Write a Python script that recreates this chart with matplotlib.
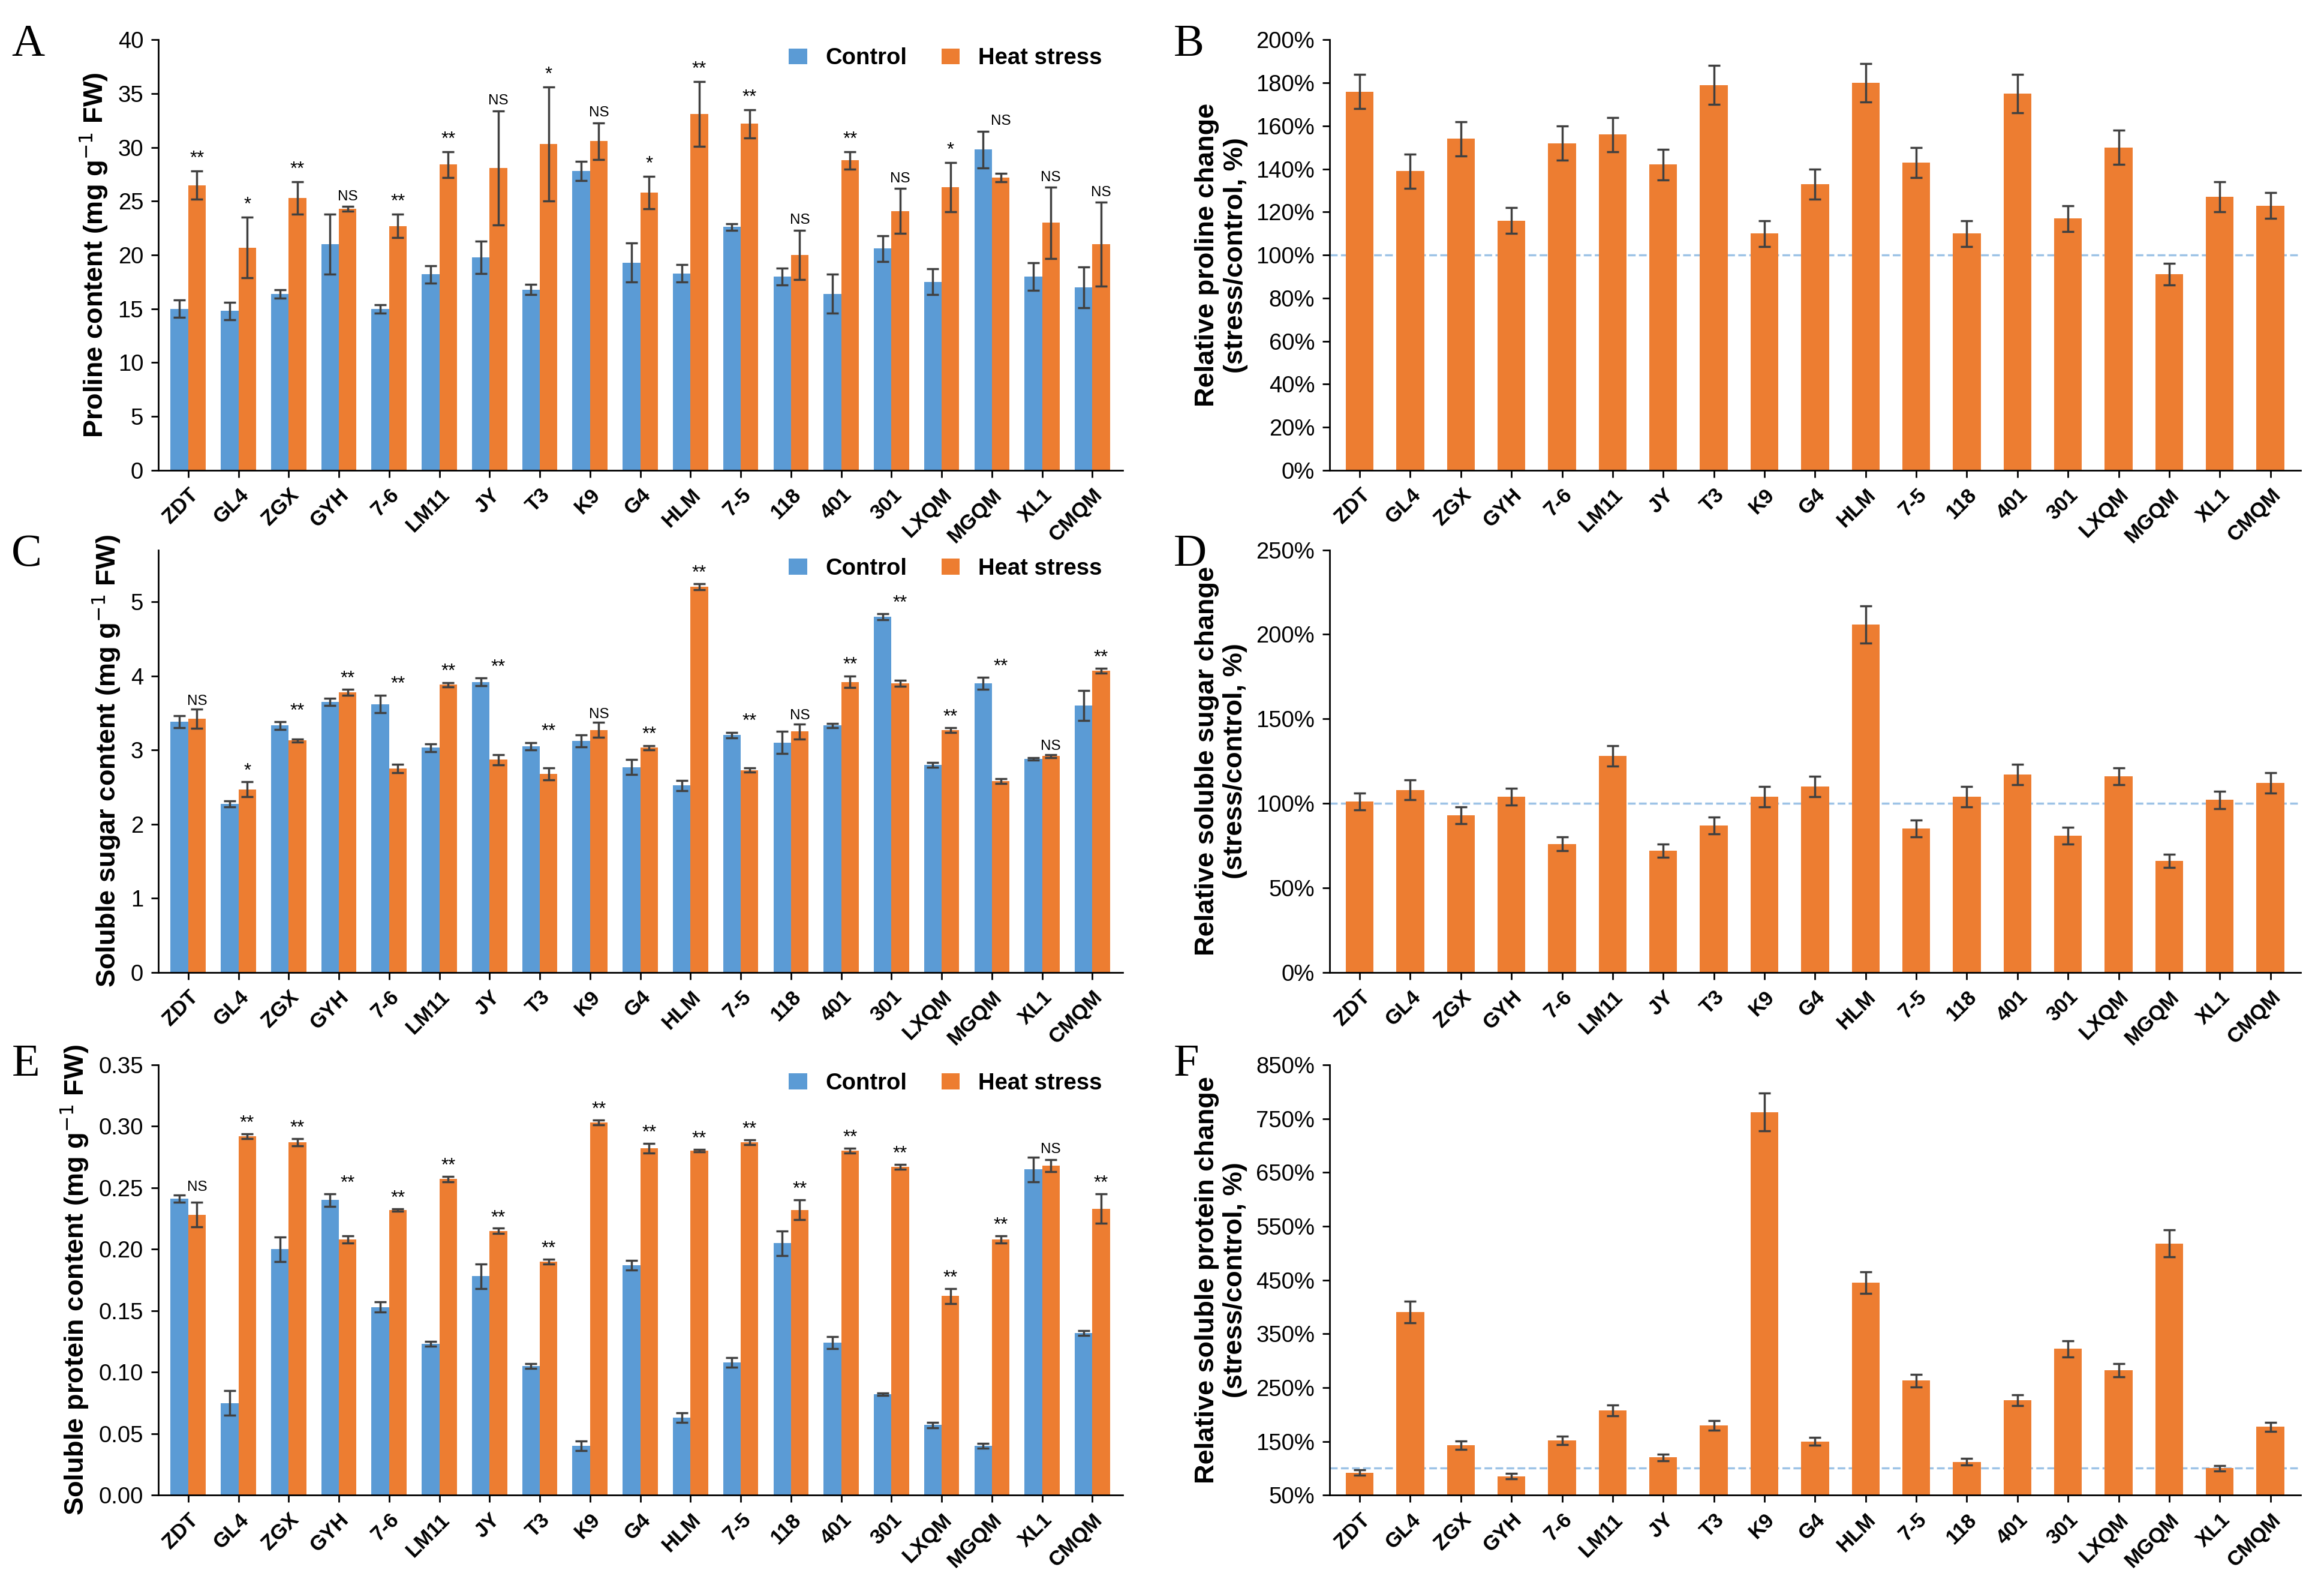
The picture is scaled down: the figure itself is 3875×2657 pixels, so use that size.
import matplotlib
matplotlib.use("Agg")
import matplotlib.pyplot as plt
import numpy as np

plt.rcParams['font.family'] = ['Liberation Sans', 'DejaVu Sans']

cultivars = ["ZDT", "GL4", "ZGX", "GYH", "7-6", "LM11", "JY", "T3", "K9", "G4", "HLM",
             "7-5", "118", "401", "301", "LXQM", "MGQM", "XL1", "CMQM"]

# A - proline
pro_ctrl = [15, 14.8, 16.4, 21, 15, 18.2, 19.8, 16.8, 27.8, 19.3, 18.3, 22.6, 18, 16.4, 20.6, 17.5, 29.8, 18, 17]
pro_ctrl_err = [0.8, 0.8, 0.4, 2.8, 0.4, 0.8, 1.5, 0.5, 0.9, 1.8, 0.8, 0.3, 0.8, 1.8, 1.2, 1.2, 1.7, 1.3, 1.9]
pro_heat = [26.5, 20.7, 25.3, 24.3, 22.7, 28.4, 28.1, 30.3, 30.6, 25.8, 33.1, 32.2, 20, 28.8, 24.1, 26.3, 27.2, 23, 21]
pro_heat_err = [1.3, 2.8, 1.5, 0.2, 1.1, 1.2, 5.3, 5.3, 1.7, 1.5, 3.0, 1.3, 2.3, 0.8, 2.1, 2.3, 0.4, 3.3, 3.9]
pro_sig = ["**", "*", "**", "NS", "**", "**", "NS", "*", "NS", "*", "**", "**", "NS", "**", "NS", "*", "NS", "NS", "NS"]
# B
pro_rel = [176, 139, 154, 116, 152, 156, 142, 179, 110, 133, 180, 143, 110, 175, 117, 150, 91, 127, 123]
pro_rel_err = [8, 8, 8, 6, 8, 8, 7, 9, 6, 7, 9, 7, 6, 9, 6, 8, 5, 7, 6]

# C - soluble sugar
sug_ctrl = [3.38, 2.27, 3.33, 3.65, 3.62, 3.03, 3.92, 3.05, 3.12, 2.77, 2.52, 3.2, 3.1, 3.33, 4.8, 2.8, 3.9, 2.88, 3.6]
sug_ctrl_err = [0.08, 0.04, 0.05, 0.05, 0.12, 0.05, 0.05, 0.05, 0.08, 0.1, 0.07, 0.04, 0.15, 0.03, 0.04, 0.03, 0.08, 0.02, 0.2]
sug_heat = [3.42, 2.47, 3.13, 3.78, 2.75, 3.88, 2.87, 2.68, 3.27, 3.03, 5.2, 2.73, 3.25, 3.92, 3.9, 3.27, 2.58, 2.92, 4.07]
sug_heat_err = [0.13, 0.1, 0.02, 0.04, 0.06, 0.03, 0.07, 0.08, 0.1, 0.03, 0.04, 0.03, 0.1, 0.08, 0.04, 0.03, 0.03, 0.02, 0.03]
sug_sig = ["NS", "*", "**", "**", "**", "**", "**", "**", "NS", "**", "**", "**", "NS", "**", "**", "**", "**", "NS", "**"]
# D
sug_rel = [101, 108, 93, 104, 76, 128, 72, 87, 104, 110, 206, 85, 104, 117, 81, 116, 66, 102, 112]
sug_rel_err = [5, 6, 5, 5, 4, 6, 4, 5, 6, 6, 11, 5, 6, 6, 5, 5, 4, 5, 6]

# E - soluble protein
prt_ctrl = [0.241, 0.075, 0.2, 0.24, 0.153, 0.123, 0.178, 0.105, 0.04, 0.187, 0.063, 0.108, 0.205, 0.124, 0.082, 0.057, 0.04, 0.265, 0.132]
prt_ctrl_err = [0.003, 0.01, 0.01, 0.005, 0.004, 0.002, 0.01, 0.002, 0.004, 0.004, 0.004, 0.004, 0.01, 0.005, 0.001, 0.002, 0.002, 0.01, 0.002]
prt_heat = [0.228, 0.292, 0.287, 0.208, 0.232, 0.257, 0.215, 0.19, 0.303, 0.282, 0.28, 0.287, 0.232, 0.28, 0.267, 0.162, 0.208, 0.268, 0.233]
prt_heat_err = [0.01, 0.002, 0.003, 0.003, 0.001, 0.002, 0.002, 0.002, 0.002, 0.004, 0.001, 0.002, 0.008, 0.002, 0.002, 0.006, 0.003, 0.005, 0.012]
prt_sig = ["NS"] + ["**"] * 16 + ["NS", "**"]
# F
prt_rel = [92, 390, 143, 85, 152, 208, 120, 180, 762, 150, 445, 263, 112, 226, 322, 282, 518, 100, 177]
prt_rel_err = [5, 20, 8, 5, 8, 10, 6, 9, 35, 7, 20, 12, 6, 10, 15, 12, 25, 5, 8]

BLUE = "#5B9BD5"
ORANGE = "#ED7D31"
x = np.arange(len(cultivars))


def style_axis(ax):
    ax.set_xticks(x)
    ax.set_xticklabels(cultivars, rotation=45, ha='right', rotation_mode='anchor',
                       fontsize=10, fontweight='bold')
    ax.set_xlim(-0.6, len(cultivars) - 0.4)
    ax.tick_params(axis='y', labelsize=11)
    for s in ['top', 'right']:
        ax.spines[s].set_visible(False)


def paired(ax, ctrl, ce, heat, he, sig, ylim, yticks, fmt, ylabel, off):
    w = 0.35
    ek = dict(ecolor='#404040', capsize=3, elinewidth=1)
    ax.bar(x - w / 2, ctrl, w, yerr=ce, color=BLUE, label='Control', error_kw=ek)
    ax.bar(x + w / 2, heat, w, yerr=he, color=ORANGE, label='Heat stress', error_kw=ek)
    for i in range(len(x)):
        top = max(ctrl[i] + ce[i], heat[i] + he[i])
        ax.text(x[i] + w / 2, top + off, sig[i], ha='center', va='bottom',
                fontsize=7 if sig[i] == "NS" else 9, clip_on=False)
    ax.set_ylim(*ylim)
    ax.set_yticks(yticks)
    ax.set_yticklabels([fmt.format(v) for v in yticks])
    ax.set_ylabel(ylabel, fontsize=13, fontweight='bold')
    ax.legend(loc='upper right', bbox_to_anchor=(1.0, 1.03), ncol=2, frameon=False,
              prop={'weight': 'bold', 'size': 11}, handlelength=0.8, columnspacing=1.5)
    style_axis(ax)


def relative(ax, vals, err, ylim, yticks, ylabel):
    ax.bar(x, vals, 0.55, yerr=err, color=ORANGE,
           error_kw=dict(ecolor='#404040', capsize=3, elinewidth=1))
    ax.axhline(100, color='#9DC3E6', linestyle='--', linewidth=1, zorder=0)
    ax.set_ylim(*ylim)
    ax.set_yticks(yticks)
    ax.set_yticklabels([f"{v}%" for v in yticks])
    ax.set_ylabel(ylabel, fontsize=13, fontweight='bold')
    style_axis(ax)


fig = plt.figure(figsize=(15.5, 10.628), dpi=250)
axA = fig.add_axes([0.068, 0.705, 0.415, 0.27])
axB = fig.add_axes([0.572, 0.705, 0.418, 0.27])
axC = fig.add_axes([0.068, 0.39, 0.415, 0.265])
axD = fig.add_axes([0.572, 0.39, 0.418, 0.265])
axE = fig.add_axes([0.068, 0.062, 0.415, 0.27])
axF = fig.add_axes([0.572, 0.062, 0.418, 0.27])

paired(axA, pro_ctrl, pro_ctrl_err, pro_heat, pro_heat_err, pro_sig, (0, 40), range(0, 41, 5),
       "{:d}", "Proline content (mg g$^{-1}$ FW)", 0.3)
relative(axB, pro_rel, pro_rel_err, (0, 200), list(range(0, 201, 20)),
         "Relative proline change\n(stress/control, %)")
paired(axC, sug_ctrl, sug_ctrl_err, sug_heat, sug_heat_err, sug_sig, (0, 5.7), range(0, 6),
       "{:d}", "Soluble sugar content (mg g$^{-1}$ FW)", 0.02)
relative(axD, sug_rel, sug_rel_err, (0, 250), list(range(0, 251, 50)),
         "Relative soluble sugar change\n(stress/control, %)")
paired(axE, prt_ctrl, prt_ctrl_err, prt_heat, prt_heat_err, prt_sig, (0, 0.35),
       np.round(np.arange(0, 0.351, 0.05), 2), "{:.2f}", "Soluble protein content (mg g$^{-1}$ FW)", 0.001)
relative(axF, prt_rel, prt_rel_err, (50, 850), list(range(50, 851, 100)),
         "Relative soluble protein change\n(stress/control, %)")

for lab, xx, yy in [("A", 0.005, 0.965), ("B", 0.505, 0.965), ("C", 0.005, 0.645),
                    ("D", 0.505, 0.645), ("E", 0.005, 0.325), ("F", 0.505, 0.325)]:
    fig.text(xx, yy, lab, fontsize=22, family=['Liberation Serif', 'DejaVu Serif'])

fig.savefig("out.png", dpi=250)
